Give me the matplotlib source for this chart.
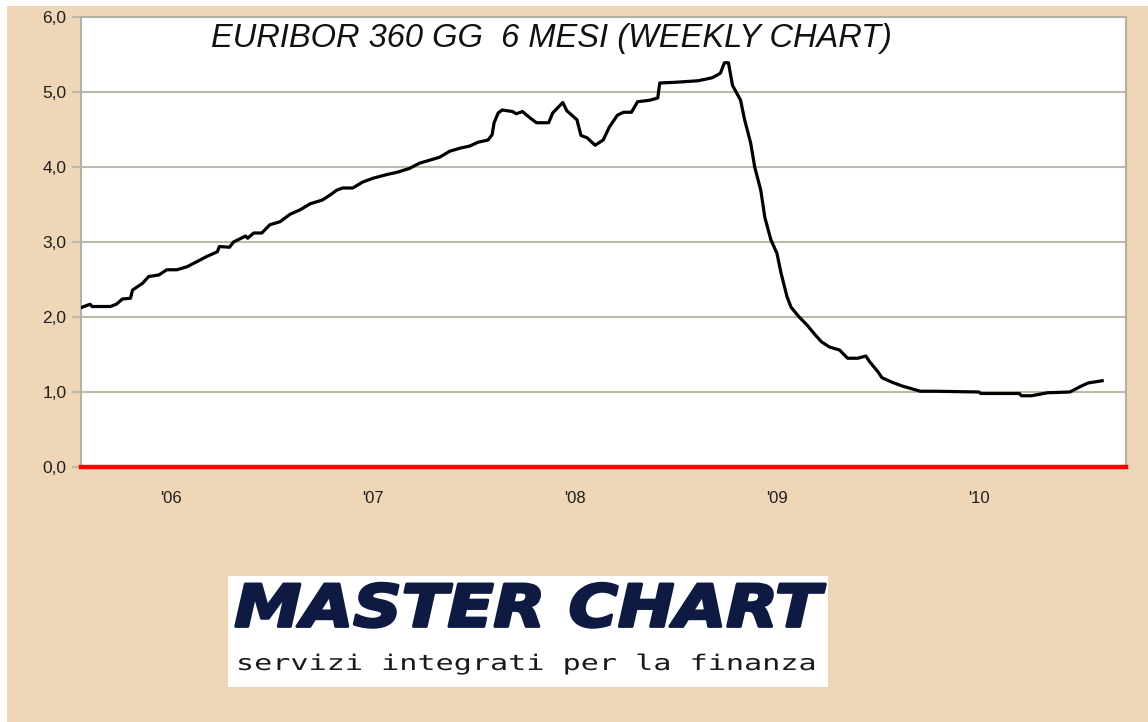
#!/usr/bin/env python3
"""
Euribor 360gg 6 mesi - weekly chart (Master Chart style)
"""
import matplotlib
matplotlib.use('Agg')
import matplotlib.pyplot as plt
from matplotlib import patheffects
from matplotlib.patches import Rectangle
from matplotlib.transforms import Affine2D
from matplotlib.ticker import FuncFormatter

# time in decimal years, rate in %
years = [2005.56, 2005.60, 2005.61, 2005.70, 2005.73, 2005.76, 2005.80, 2005.81,
         2005.86, 2005.89, 2005.94, 2005.98, 2006.03, 2006.08, 2006.13, 2006.18,
         2006.23, 2006.24, 2006.29, 2006.31, 2006.37, 2006.38, 2006.41, 2006.45,
         2006.49, 2006.54, 2006.59, 2006.64, 2006.69, 2006.75, 2006.79, 2006.82,
         2006.85, 2006.90, 2006.95, 2007.00, 2007.07, 2007.12, 2007.18, 2007.23,
         2007.28, 2007.33, 2007.38, 2007.43, 2007.48, 2007.52, 2007.57, 2007.59,
         2007.60, 2007.62, 2007.64, 2007.69, 2007.71, 2007.74, 2007.78, 2007.81,
         2007.87, 2007.89, 2007.94, 2007.96, 2008.01, 2008.03, 2008.06, 2008.10,
         2008.14, 2008.17, 2008.21, 2008.24, 2008.28, 2008.31, 2008.37, 2008.41,
         2008.42, 2008.50, 2008.61, 2008.68, 2008.72, 2008.74, 2008.76, 2008.78,
         2008.82, 2008.84, 2008.87, 2008.89, 2008.92, 2008.94, 2008.97, 2009.00,
         2009.02, 2009.05, 2009.07, 2009.11, 2009.15, 2009.19, 2009.22, 2009.26,
         2009.31, 2009.35, 2009.40, 2009.44, 2009.46, 2009.50, 2009.52, 2009.57,
         2009.62, 2009.71, 2009.79, 2010.00, 2010.01, 2010.20, 2010.21, 2010.26,
         2010.34, 2010.45, 2010.50, 2010.54, 2010.61]
rates = [2.13, 2.17, 2.14, 2.14, 2.17, 2.24, 2.25, 2.36,
         2.45, 2.54, 2.56, 2.63, 2.63, 2.67, 2.74, 2.81,
         2.87, 2.94, 2.93, 3.00, 3.08, 3.05, 3.12, 3.12,
         3.23, 3.27, 3.37, 3.43, 3.51, 3.56, 3.63, 3.69,
         3.72, 3.72, 3.80, 3.85, 3.90, 3.93, 3.98, 4.05,
         4.09, 4.13, 4.21, 4.25, 4.28, 4.33, 4.36, 4.43,
         4.59, 4.72, 4.76, 4.74, 4.71, 4.74, 4.65, 4.59,
         4.59, 4.72, 4.86, 4.75, 4.63, 4.42, 4.39, 4.29,
         4.36, 4.53, 4.69, 4.73, 4.73, 4.87, 4.89, 4.92,
         5.12, 5.13, 5.15, 5.19, 5.25, 5.39, 5.39, 5.09,
         4.89, 4.63, 4.32, 4.00, 3.69, 3.33, 3.03, 2.85,
         2.59, 2.27, 2.13, 2.00, 1.89, 1.76, 1.67, 1.60,
         1.56, 1.45, 1.45, 1.48, 1.40, 1.27, 1.19, 1.13,
         1.08, 1.01, 1.01, 1.00, 0.98, 0.98, 0.95, 0.95,
         0.99, 1.00, 1.07, 1.12, 1.15]

year_ticks = [2006, 2007, 2008, 2009, 2010]
year_labels = ["'06", "'07", "'08", "'09", "'10"]
rate_ticks = [0, 1, 2, 3, 4, 5, 6]

TITLE = "EURIBOR 360 GG  6 MESI (WEEKLY CHART)"
BRAND = "MASTER CHART"
TAGLINE = "servizi integrati per la finanza"

TAN = '#EED6B7'
GRID = '#BEBAA8'
NAVY = '#0E1A42'


class Stretch(patheffects.AbstractPathEffect):
    """Scale a text path around its own centre, optionally with a stroke to make it heavier."""
    def __init__(self, sx=1.0, sy=1.0, stroke=0.0, color=None):
        super().__init__()
        self.sx, self.sy = sx, sy
        self.stroke, self.color = stroke, color

    def draw_path(self, renderer, gc, tpath, affine, rgbFace=None):
        ext = affine.transform_path(tpath).get_extents()
        cx, cy = (ext.x0 + ext.x1) / 2, (ext.y0 + ext.y1) / 2
        aff = affine + Affine2D().translate(-cx, -cy).scale(self.sx, self.sy).translate(cx, cy)
        gc0 = renderer.new_gc()
        gc0.copy_properties(gc)
        if self.stroke:
            gc0.set_linewidth(self.stroke)
            gc0.set_foreground(self.color)
            gc0.set_joinstyle('round')
        renderer.draw_path(gc0, tpath, aff, rgbFace)
        gc0.restore()


W, H = 1148, 722
fig = plt.figure(figsize=(W / 100, H / 100), dpi=100, facecolor=TAN)

# thin white frame at the top / left edge of the screenshot
fig.patches.append(Rectangle((0, 1 - 6 / H), 1, 6 / H, transform=fig.transFigure,
                             facecolor='white', edgecolor='none', zorder=0))
fig.patches.append(Rectangle((0, 0), 7 / W, 1, transform=fig.transFigure,
                             facecolor='white', edgecolor='none', zorder=0))

left, right, top, bottom = 81, 1126, 17, 467
ax = fig.add_axes([left / W, 1 - bottom / H, (right - left) / W, (bottom - top) / H])
ax.set_facecolor('white')

ax.plot(years, rates, color='black', lw=2.3, solid_joinstyle='round', zorder=3)

ax.set_xlim(2005.555, 2010.728)
ax.set_ylim(0, 6)
ax.set_yticks(rate_ticks)
ax.yaxis.set_major_formatter(FuncFormatter(lambda v, p: f"{v:.1f}".replace('.', ',')))
ax.set_xticks(year_ticks)
ax.set_xticklabels(year_labels)

ax.grid(axis='y', color=GRID, lw=1.5, zorder=1)
ax.tick_params(axis='y', length=6.5, width=1.5, color=GRID, pad=4,
               labelsize=12.5, labelcolor='#1E1E1E')
ax.tick_params(axis='x', length=0, pad=17, labelsize=12, labelcolor='#1E1E1E')
for lab in ax.get_yticklabels() + ax.get_xticklabels():
    lab.set_fontfamily('Liberation Sans')

for side in ['left', 'right', 'top']:
    ax.spines[side].set_color('#B5B1A0')
    ax.spines[side].set_linewidth(1.5)
ax.spines['bottom'].set_color('#FF0000')
ax.spines['bottom'].set_linewidth(3.2)
ax.spines['bottom'].set_zorder(4)

fig.text(551 / W, 1 - 38 / H, TITLE, ha='center', va='center', fontsize=23.5,
         style='italic', family='Liberation Sans', color='#111111')

# logo box
lx0, lx1, ly0, ly1 = 228, 828, 576, 687
fig.patches.append(Rectangle((lx0 / W, 1 - ly1 / H), (lx1 - lx0) / W, (ly1 - ly0) / H,
                             transform=fig.transFigure, facecolor='white',
                             edgecolor='none', zorder=1))
fig.text(528 / W, 1 - 611 / H, BRAND, ha='center', va='center', fontsize=44,
         weight='bold', style='oblique', family='DejaVu Sans', color=NAVY,
         path_effects=[Stretch(1.1, 0.95, stroke=2.2, color=NAVY)])
fig.text(527 / W, 1 - 664 / H, TAGLINE, ha='center', va='center', fontsize=15.5,
         family='DejaVu Sans Mono', color='#1A1A1A',
         path_effects=[Stretch(1.4, 1.0)])

fig.savefig('out.png', dpi=100, facecolor=TAN)
